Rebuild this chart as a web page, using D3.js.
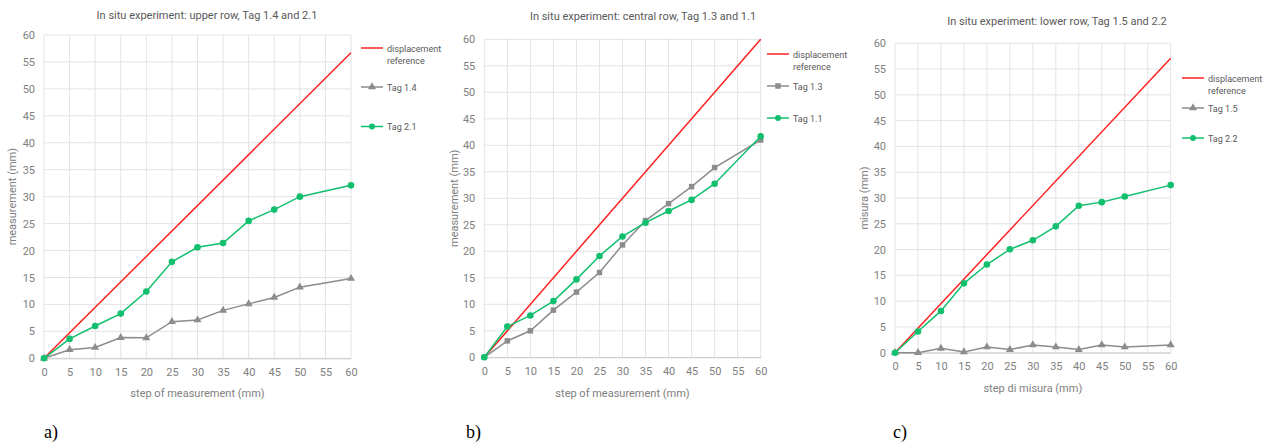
<!DOCTYPE html>
<html>
<head>
<meta charset="utf-8">
<script src="https://cdn.jsdelivr.net/npm/d3@7"></script>
<style>
  body { margin: 0; background: #fff; }
  svg text { font-family: Roboto, "Open Sans", sans-serif; }
</style>
</head>
<body>
<svg width="1268" height="445"></svg>
<script>
// data
var steps = [0, 5, 10, 15, 20, 25, 30, 35, 40, 45, 50, 60];
var xTicks = [0, 5, 10, 15, 20, 25, 30, 35, 40, 45, 50, 55, 60];
var yTicks = [0, 5, 10, 15, 20, 25, 30, 35, 40, 45, 50, 55, 60];
var refSteps = [0, 60];

// a) upper row
var refA = [0, 56.7];
var tag14 = [0, 1.6, 2.0, 3.85, 3.8, 6.8, 7.1, 8.9, 10.1, 11.3, 13.2, 14.8];
var tag21 = [0, 3.6, 6.0, 8.3, 12.4, 17.9, 20.6, 21.4, 25.5, 27.6, 30.0, 32.1];
// b) central row
var refB = [0, 60];
var tag13 = [0, 3.1, 5.0, 8.9, 12.3, 16.0, 21.2, 25.8, 29.0, 32.2, 35.8, 41.0];
var tag11 = [0, 5.8, 7.9, 10.6, 14.7, 19.1, 22.8, 25.4, 27.6, 29.7, 32.75, 41.7];
// c) lower row
var refC = [0, 57.1];
var tag15 = [0, 0, 0.85, 0.15, 1.1, 0.6, 1.5, 1.1, 0.6, 1.5, 1.1, 1.5];
var tag22 = [0, 4.1, 8.1, 13.45, 17.1, 20.05, 21.8, 24.5, 28.5, 29.2, 30.3, 32.5];

var red = "#ff2020", grey = "#8c8c8c", green = "#12bf6e";
var svg = d3.select("svg");

function panel(o) {
  var x = d3.scaleLinear().domain([0, 60]).range([o.left, o.right]);
  var y = d3.scaleLinear().domain([0, 60]).range([o.bottom, o.top]);
  var g = svg.append("g");

  // grid
  g.append("g").selectAll("line").data(yTicks).enter().append("line")
    .attr("x1", o.left).attr("x2", o.right)
    .attr("y1", function(d) { return y(d); }).attr("y2", function(d) { return y(d); })
    .attr("stroke", "#e3e3e3").attr("stroke-width", 1);
  g.append("g").selectAll("line").data(xTicks).enter().append("line")
    .attr("y1", o.top).attr("y2", o.bottom)
    .attr("x1", function(d) { return x(d); }).attr("x2", function(d) { return x(d); })
    .attr("stroke", "#e3e3e3").attr("stroke-width", 1);

  var ax = g.append("g").attr("transform", "translate(0," + o.bottom + ")")
    .call(d3.axisBottom(x).tickValues(xTicks).tickSize(0).tickPadding(10));
  ax.select(".domain").attr("stroke", "#c8c8c8");
  ax.selectAll("text").attr("fill", "#808080").attr("font-size", 11)
    .style("font-family", "Roboto, sans-serif");

  var ay = g.append("g").attr("transform", "translate(" + o.left + ",0)")
    .call(d3.axisLeft(y).tickValues(yTicks).tickSize(0).tickPadding(9));
  ay.select(".domain").remove();
  ay.selectAll("text").attr("fill", "#808080").attr("font-size", 11)
    .style("font-family", "Roboto, sans-serif");

  var line = d3.line().x(function(d) { return x(d[0]); }).y(function(d) { return y(d[1]); });

  g.append("path").datum(d3.zip(refSteps, o.ref))
    .attr("d", line).attr("fill", "none").attr("stroke", red).attr("stroke-width", 1.5);

  g.append("path").datum(d3.zip(steps, o.grey))
    .attr("d", line).attr("fill", "none").attr("stroke", grey).attr("stroke-width", 1.5);
  var sym = d3.symbol().type(o.greySym).size(o.greySym === d3.symbolSquare ? 30 : 28);
  g.append("g").selectAll("path").data(d3.zip(steps, o.grey)).enter().append("path")
    .attr("d", sym)
    .attr("transform", function(d) { return "translate(" + x(d[0]) + "," + y(d[1]) + ")"; })
    .attr("fill", grey);

  g.append("path").datum(d3.zip(steps, o.green))
    .attr("d", line).attr("fill", "none").attr("stroke", green).attr("stroke-width", 1.5);
  g.append("g").selectAll("circle").data(d3.zip(steps, o.green)).enter().append("circle")
    .attr("cx", function(d) { return x(d[0]); }).attr("cy", function(d) { return y(d[1]); })
    .attr("r", 3.3).attr("fill", green);

  // titles
  g.append("text").attr("x", o.titleX).attr("y", o.titleY).attr("text-anchor", "middle")
    .attr("font-size", 11).attr("fill", "#595959").text(o.title);
  g.append("text").attr("x", (o.left + o.right) / 2).attr("y", o.xlabY)
    .attr("text-anchor", "middle").attr("font-size", 11).attr("fill", "#808080").text(o.xlab);
  g.append("text").attr("transform", "translate(" + o.ylabX + "," + ((o.top + o.bottom) / 2) + ") rotate(-90)")
    .attr("text-anchor", "middle").attr("font-size", 11).attr("fill", "#808080").text(o.ylab);

  // legend
  var lx = o.legX, lg = g.append("g");
  lg.append("line").attr("x1", lx).attr("x2", lx + 22).attr("y1", o.legY[0]).attr("y2", o.legY[0])
    .attr("stroke", red).attr("stroke-width", 1.5);
  lg.append("text").attr("x", lx + 26).attr("y", o.legY[0] + 3.5).attr("font-size", 9).attr("fill", "#595959").text("displacement");
  lg.append("text").attr("x", lx + 26).attr("y", o.legY[0] + 16).attr("font-size", 9).attr("fill", "#595959").text("reference");
  lg.append("line").attr("x1", lx).attr("x2", lx + 22).attr("y1", o.legY[1]).attr("y2", o.legY[1])
    .attr("stroke", grey).attr("stroke-width", 1.5);
  lg.append("path").attr("d", sym).attr("transform", "translate(" + (lx + 11) + "," + o.legY[1] + ")").attr("fill", grey);
  lg.append("text").attr("x", lx + 26).attr("y", o.legY[1] + 3.5).attr("font-size", 9).attr("fill", "#595959").text(o.greyName);
  lg.append("line").attr("x1", lx).attr("x2", lx + 22).attr("y1", o.legY[2]).attr("y2", o.legY[2])
    .attr("stroke", green).attr("stroke-width", 1.5);
  lg.append("circle").attr("cx", lx + 11).attr("cy", o.legY[2]).attr("r", 3).attr("fill", green);
  lg.append("text").attr("x", lx + 26).attr("y", o.legY[2] + 3.5).attr("font-size", 9).attr("fill", "#595959").text(o.greenName);

  svg.append("text").attr("x", o.tagX).attr("y", 438).attr("font-size", 18)
    .style("font-family", "'Liberation Serif', serif").attr("fill", "#000").text(o.tag);
}

panel({left: 44, right: 351, top: 35, bottom: 358.3, ref: refA, grey: tag14, green: tag21,
  greySym: d3.symbolTriangle, greyName: "Tag 1.4", greenName: "Tag 2.1",
  title: "In situ experiment: upper row, Tag 1.4 and 2.1", titleX: 207, titleY: 19,
  xlab: "step of measurement (mm)", xlabY: 397, ylab: "measurement (mm)", ylabX: 16,
  legX: 361, legY: [48, 87, 126.5], tag: "a)", tagX: 44});

panel({left: 484.3, right: 760.7, top: 39.3, bottom: 357.3, ref: refB, grey: tag13, green: tag11,
  greySym: d3.symbolSquare, greyName: "Tag 1.3", greenName: "Tag 1.1",
  title: "In situ experiment: central row, Tag 1.3 and 1.1", titleX: 643, titleY: 20,
  xlab: "step of measurement (mm)", xlabY: 397, ylab: "measurement (mm)", ylabX: 458,
  legX: 767, legY: [54, 86, 118], tag: "b)", tagX: 466});

panel({left: 895, right: 1170.7, top: 43.3, bottom: 352.7, ref: refC, grey: tag15, green: tag22,
  greySym: d3.symbolTriangle, greyName: "Tag 1.5", greenName: "Tag 2.2",
  title: "In situ experiment: lower row, Tag 1.5 and 2.2", titleX: 1057, titleY: 25,
  xlab: "step di misura (mm)", xlabY: 392, ylab: "misura (mm)", ylabX: 868,
  legX: 1182, legY: [78, 108, 138], tag: "c)", tagX: 893});
</script>
</body>
</html>
